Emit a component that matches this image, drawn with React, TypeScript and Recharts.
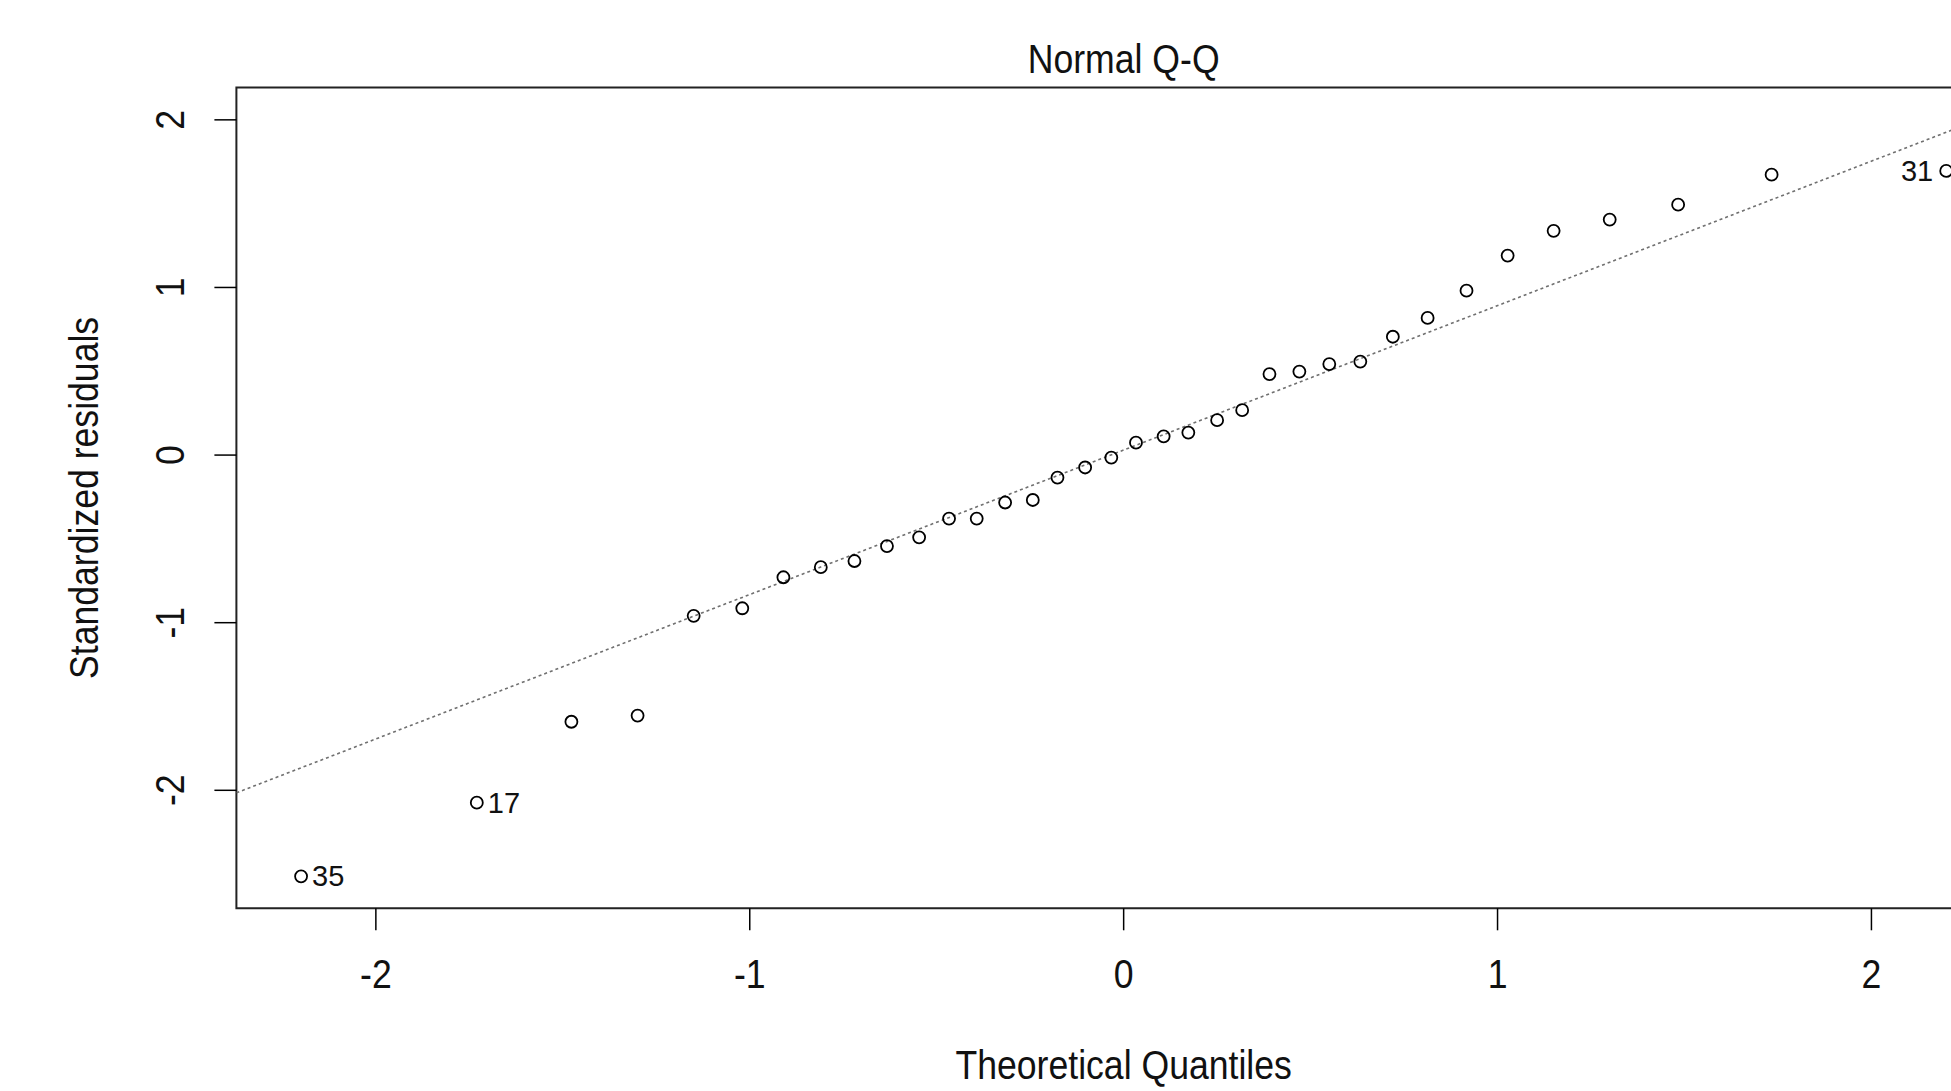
import React from "react";
import {
  ScatterChart,
  Scatter,
  XAxis,
  YAxis,
  ReferenceArea,
  ReferenceLine,
  Label,
} from "recharts";

// theoretical normal quantiles (x) and standardized residuals (y)
const theoQuantiles = [
  -2.2, -1.73, -1.477, -1.3, -1.15, -1.02, -0.91, -0.81, -0.72, -0.633, -0.547,
  -0.467, -0.393, -0.317, -0.243, -0.177, -0.103, -0.033, 0.033, 0.107, 0.173,
  0.25, 0.317, 0.39, 0.47, 0.55, 0.633, 0.72, 0.813, 0.917, 1.027, 1.15, 1.3,
  1.483, 1.733, 2.2,
];
const stdResiduals = [
  -2.513, -2.074, -1.591, -1.554, -0.959, -0.914, -0.729, -0.669, -0.632,
  -0.543, -0.491, -0.379, -0.379, -0.283, -0.268, -0.134, -0.074, -0.015, 0.074,
  0.112, 0.134, 0.208, 0.268, 0.483, 0.498, 0.543, 0.558, 0.706, 0.818, 0.981,
  1.19, 1.338, 1.405, 1.494, 1.673, 1.695,
];
// observations flagged with their row number
const flaggedIndex = [0, 1, 35];
const flaggedIds = ["35", "17", "31"];
const flaggedSide = ["right", "right", "left"];

// qqline end points across the plot region
const qqLine = [
  { x: -2.373, y: -2.015 },
  { x: 2.373, y: 2.075 },
];

const xTicks = [-2, -1, 0, 1, 2];
const yTicks = [-2, -1, 0, 1, 2];
const xDomain: [number, number] = [-2.373, 2.373];
const yDomain: [number, number] = [-2.704, 2.193];

const points = theoQuantiles.map((x, i) => {
  const k = flaggedIndex.indexOf(i);
  return {
    x,
    y: stdResiduals[i],
    id: k >= 0 ? flaggedIds[k] : null,
    side: k >= 0 ? flaggedSide[k] : null,
  };
});

const FONT = "'Liberation Sans', Arial, sans-serif";
const INK = "#111";

// R's text here is a bit narrower than Arial, squeeze along the baseline
const NarrowText = ({ x, y, rotate = 0, anchor = "middle", size = 40, children }: any) => (
  <text
    transform={`translate(${x},${y}) rotate(${rotate}) scale(0.89,1)`}
    textAnchor={anchor}
    fontFamily={FONT}
    fontSize={size}
    fill={INK}
  >
    {children}
  </text>
);

const XTick = (props: any) => {
  const { x, y, payload } = props;
  return (
    <NarrowText x={x} y={y + 57.7}>
      {String(payload.value)}
    </NarrowText>
  );
};

const YTick = (props: any) => {
  const { x, y, payload } = props;
  return (
    <NarrowText x={x - 30.1} y={y} rotate={-90}>
      {String(payload.value)}
    </NarrowText>
  );
};

const PointShape = (props: any) => {
  const { cx, cy, payload } = props;
  if (cx == null || cy == null) return null;
  return (
    <g>
      <circle cx={cx} cy={cy} r={6} fill="none" stroke="#000" strokeWidth={1.8} />
      {payload.id && (
        <text
          x={payload.side === "right" ? cx + 11 : cx - 13}
          y={cy + 10}
          textAnchor={payload.side === "right" ? "start" : "end"}
          fontFamily={FONT}
          fontSize={29}
          fill={INK}
        >
          {payload.id}
        </text>
      )}
    </g>
  );
};

export default function App() {
  return (
    <div
      style={{
        position: "fixed",
        left: 0,
        top: 0,
        width: 1951,
        height: 1091,
        overflow: "hidden",
        background: "#fff",
      }}
    >
      <ScatterChart
        width={2100}
        height={1091}
        margin={{ top: 87.5, right: 89.1, bottom: 82.7, left: 136.4 }}
      >
        <XAxis
          type="number"
          dataKey="x"
          domain={xDomain}
          ticks={xTicks}
          interval={0}
          allowDataOverflow
          axisLine={false}
          tickSize={22}
          tickMargin={0}
          tickLine={{ stroke: "#000", strokeWidth: 1.5 }}
          tick={<XTick />}
          height={100}
        >
          <Label
            content={(p: any) => {
              const vb = p.viewBox;
              return (
                <NarrowText x={vb.x + vb.width / 2} y={vb.y + 170.7}>
                  Theoretical Quantiles
                </NarrowText>
              );
            }}
          />
        </XAxis>
        <YAxis
          type="number"
          dataKey="y"
          domain={yDomain}
          ticks={yTicks}
          interval={0}
          allowDataOverflow
          axisLine={false}
          tickSize={22}
          tickMargin={0}
          tickLine={{ stroke: "#000", strokeWidth: 1.5 }}
          tick={<YTick />}
          width={100}
        >
          <Label
            content={(p: any) => {
              const vb = p.viewBox;
              return (
                <NarrowText x={vb.x - 38.4} y={vb.y + vb.height / 2} rotate={-90}>
                  Standardized residuals
                </NarrowText>
              );
            }}
          />
        </YAxis>
        <ReferenceArea
          x1={xDomain[0]}
          x2={xDomain[1]}
          y1={yDomain[0]}
          y2={yDomain[1]}
          fill="#fff"
          fillOpacity={0}
          stroke="#222"
          strokeWidth={2}
          label={{
            content: (p: any) => {
              const vb = p.viewBox;
              return (
                <NarrowText x={vb.x + vb.width / 2} y={vb.y - 14.8}>
                  Normal Q-Q
                </NarrowText>
              );
            },
          }}
        />
        <ReferenceLine
          segment={qqLine}
          stroke="#707070"
          strokeWidth={1.6}
          strokeDasharray="3 3"
          ifOverflow="hidden"
        />
        <Scatter
          data={points}
          shape={<PointShape />}
          isAnimationActive={false}
        />
      </ScatterChart>
    </div>
  );
}
